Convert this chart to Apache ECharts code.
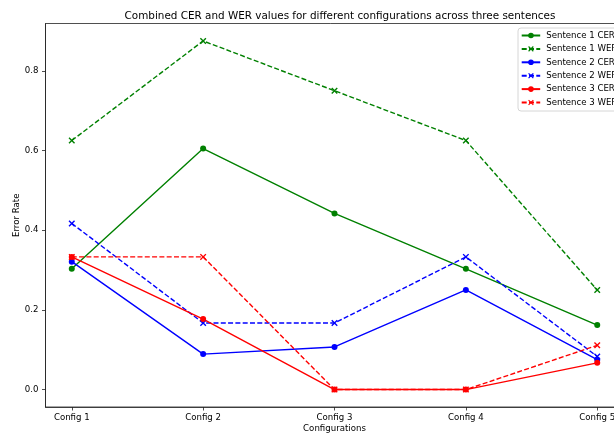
<!DOCTYPE html>
<html><head><meta charset="utf-8">
<script src="https://cdn.jsdelivr.net/npm/echarts@6/dist/echarts.min.js"></script>
<style>html,body{margin:0;padding:0;background:#fff}#c{width:614px;height:434px}</style>
</head><body><div id="c"></div>
<script>
const categories = ['Config 1','Config 2','Config 3','Config 4','Config 5'];
const s1CER = [0.303, 0.605, 0.442, 0.303, 0.162];
const s1WER = [0.625, 0.875, 0.75, 0.625, 0.25];
const s2CER = [0.321, 0.089, 0.107, 0.25, 0.075];
const s2WER = [0.417, 0.167, 0.167, 0.333, 0.083];
const s3CER = [0.333, 0.177, 0.0, 0.0, 0.067];
const s3WER = [0.333, 0.333, 0.0, 0.0, 0.111];
const yTicks = [0, 0.2, 0.4, 0.6, 0.8];

const XPATH = 'path://M0,1.5L1.5,0L5,3.5L8.5,0L10,1.5L6.5,5L10,8.5L8.5,10L5,6.5L1.5,10L0,8.5L3.5,5Z';
const FONT = 'DejaVu Sans';
function mk(name, vals, color, dashed) {
  return {
    name: name, type: 'line',
    data: vals.map((v, i) => [i, v]),
    symbol: dashed ? XPATH : 'circle',
    symbolSize: dashed ? 6.5 : 6,
    showSymbol: true,
    lineStyle: { color: color, width: 1.4, type: dashed ? [5, 2.3] : 'solid' },
    itemStyle: { color: color, borderWidth: 0 },
    emphasis: { disabled: true },
    animation: false
  };
}
const chart = echarts.init(document.getElementById('c'));
chart.setOption({
  backgroundColor: '#fff',
  animation: false,
  title: {
    text: 'Combined CER and WER values for different configurations across three sentences',
    left: 335, top: 6, textAlign: 'center',
    textStyle: { fontFamily: FONT, fontSize: 10.4, fontWeight: 'normal', color: '#000' }
  },
  grid: { left: 45.5, top: 23.5, width: 578, height: 383.5, show: true, borderColor: '#222', borderWidth: 0.8, backgroundColor: 'transparent', outerBoundsMode: 'none', containLabel: false },
  xAxis: {
    type: 'value', min: -0.2, max: 4.2,
    name: 'Configurations', nameLocation: 'middle', nameGap: 17, nameMoveOverlap: false,
    nameTextStyle: { fontFamily: FONT, fontSize: 8.6, color: '#000' },
    axisLine: { show: true, onZero: false, lineStyle: { color: '#222', width: 0.8 } },
    axisTick: { show: true, length: 3.5, customValues: [0,1,2,3,4], lineStyle: { color: '#222', width: 0.8 } },
    axisLabel: { customValues: [0,1,2,3,4], formatter: v => categories[Math.round(v)], margin: 6, fontFamily: FONT, fontSize: 8.6, color: '#000' },
    splitLine: { show: false }
  },
  yAxis: {
    type: 'value', min: -0.04375, max: 0.91875,
    name: 'Error Rate', nameLocation: 'middle', nameGap: 24, nameRotate: 90, nameMoveOverlap: false,
    nameTextStyle: { fontFamily: FONT, fontSize: 8.6, color: '#000' },
    axisLine: { show: true, onZero: false, lineStyle: { color: '#222', width: 0.8 } },
    axisTick: { show: true, length: 3.5, customValues: yTicks, lineStyle: { color: '#222', width: 0.8 } },
    axisLabel: { customValues: yTicks, formatter: v => v.toFixed(1), margin: 7, fontFamily: FONT, fontSize: 8.6, color: '#000' },
    splitLine: { show: false }
  },
  legend: {
    orient: 'vertical', left: 518, top: 28,
    padding: [3, 8, 4, 2.7],
    itemWidth: 18.5, itemHeight: 7, itemGap: 4.4,
    borderColor: '#cccccc', borderWidth: 0.8, borderRadius: 3,
    backgroundColor: 'rgba(255,255,255,0.8)',
    textStyle: { fontFamily: FONT, fontSize: 8.6, color: '#000', lineHeight: 7, padding: [0,0,0,1] },
    data: ['Sentence 1 CER','Sentence 1 WER','Sentence 2 CER','Sentence 2 WER','Sentence 3 CER','Sentence 3 WER']
  },
  series: [
    mk('Sentence 1 CER', s1CER, '#008000', false),
    mk('Sentence 1 WER', s1WER, '#008000', true),
    mk('Sentence 2 CER', s2CER, '#0000ff', false),
    mk('Sentence 2 WER', s2WER, '#0000ff', true),
    mk('Sentence 3 CER', s3CER, '#ff0000', false),
    mk('Sentence 3 WER', s3WER, '#ff0000', true)
  ]
});
</script></body></html>
